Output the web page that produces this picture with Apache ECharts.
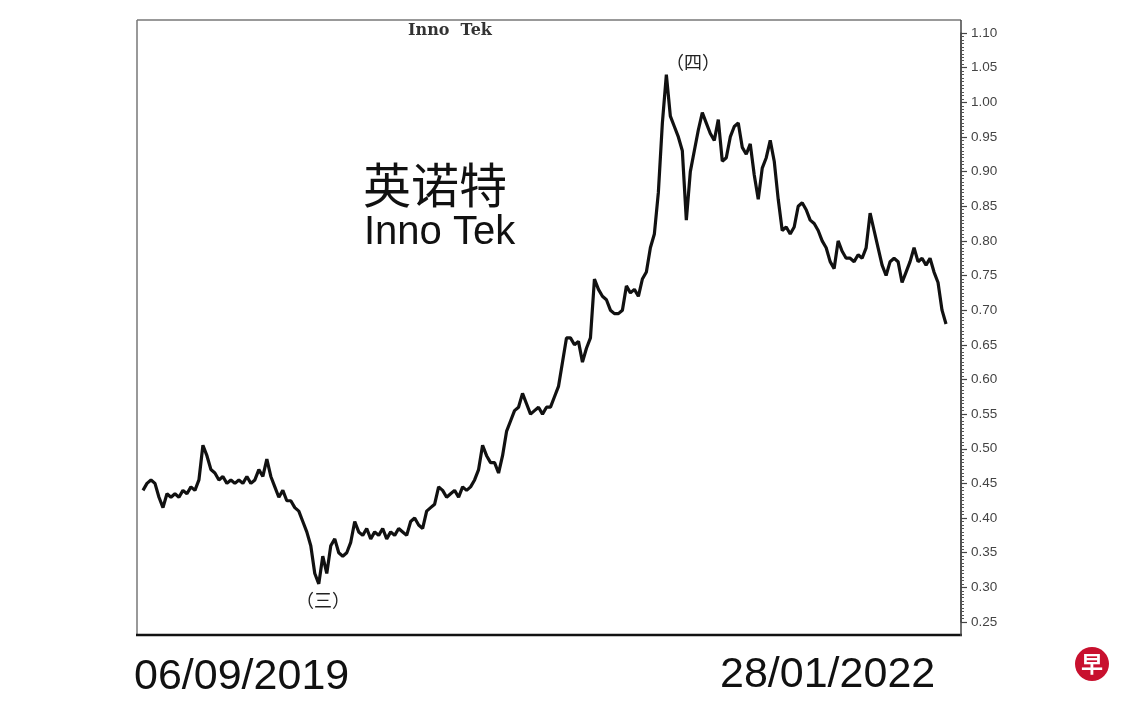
<!DOCTYPE html>
<html>
<head>
<meta charset="utf-8">
<script src="https://cdn.jsdelivr.net/npm/echarts@6/dist/echarts.min.js"></script>
<style>html,body{margin:0;padding:0;background:#fff;}#c{width:1140px;height:712px;}</style>
</head>
<body>
<div id="c"></div>
<script>
// Inno Tek price, sampled left to right (06/09/2019 -> 28/01/2022)
var prices = [
0.44,0.45,0.455,0.45,0.43,0.415,0.435,0.43,0.435,0.43,
0.44,0.435,0.445,0.44,0.455,0.505,0.49,0.47,0.465,0.455,
0.46,0.45,0.455,0.45,0.455,0.45,0.46,0.45,0.455,0.47,
0.46,0.485,0.46,0.445,0.43,0.44,0.425,0.425,0.415,0.41,
0.395,0.38,0.36,0.32,0.305,0.345,0.32,0.36,0.37,0.35,
0.345,0.35,0.365,0.395,0.38,0.375,0.385,0.37,0.38,0.375,
0.385,0.37,0.38,0.375,0.385,0.38,0.375,0.395,0.40,0.39,
0.385,0.41,0.415,0.42,0.445,0.44,0.43,0.435,0.44,0.43,
0.445,0.44,0.445,0.455,0.47,0.505,0.49,0.48,0.48,0.465,
0.49,0.525,0.54,0.555,0.56,0.58,0.565,0.55,0.555,0.56,
0.55,0.56,0.56,0.575,0.59,0.625,0.66,0.66,0.65,0.655,
0.625,0.645,0.66,0.745,0.73,0.72,0.715,0.70,0.695,0.695,
0.70,0.735,0.725,0.73,0.72,0.745,0.755,0.79,0.81,0.87,
0.97,1.04,0.98,0.965,0.95,0.93,0.83,0.90,0.93,0.96,
0.985,0.97,0.955,0.945,0.975,0.915,0.92,0.95,0.965,0.97,
0.935,0.925,0.94,0.895,0.86,0.905,0.92,0.945,0.915,0.86,
0.815,0.82,0.81,0.82,0.85,0.855,0.845,0.83,0.825,0.815,
0.80,0.79,0.77,0.76,0.80,0.785,0.775,0.775,0.77,0.78,
0.775,0.79,0.84,0.815,0.79,0.765,0.75,0.77,0.775,0.77,
0.74,0.755,0.77,0.79,0.77,0.775,0.765,0.775,0.755,0.74,
0.70,0.68
];
var yMin = 0.25, yMax = 1.10, yStep = 0.05;
var chartTitle = 'Inno  Tek';
var nameCn = '英诺特';
var nameEn = 'Inno Tek';
var startDate = '06/09/2019';
var endDate = '28/01/2022';
var markLow = '（三）';
var markHigh = '（四）';

var chart = echarts.init(document.getElementById('c'));
var seriesData = prices.map(function (v, i) { return [i, v]; });

chart.setOption({
  backgroundColor: '#fff',
  animation: false,
  grid: { left: 137, right: 179, top: 33, bottom: 90 },
  xAxis: {
    type: 'value', min: -1.5, max: prices.length + 2.75,
    show: false
  },
  yAxis: {
    type: 'value', position: 'right',
    min: yMin, max: yMax, interval: yStep,
    axisLine: { show: true, onZero: false, lineStyle: { color: '#444', width: 1.5 } },
    axisTick: { show: true, inside: false, length: 6, lineStyle: { color: '#444', width: 1.2 } },
    minorTick: { show: true, splitNumber: 10, length: 3, lineStyle: { color: '#555', width: 1 } },
    splitLine: { show: false },
    axisLabel: {
      margin: 10, color: '#444', fontSize: 13.5, fontFamily: 'Liberation Sans, Arial, sans-serif',
      formatter: function (v) { return v.toFixed(2); }
    }
  },
  series: [{
    type: 'line', data: seriesData, showSymbol: false,
    lineStyle: { color: '#111', width: 3.2 },
    clip: false
  }],
  graphic: [
    { type: 'line', shape: { x1: 137, y1: 20, x2: 961, y2: 20 }, style: { stroke: '#777', lineWidth: 1.5 } },
    { type: 'line', shape: { x1: 137, y1: 20, x2: 137, y2: 636 }, style: { stroke: '#777', lineWidth: 1.5 } },
    { type: 'line', shape: { x1: 136, y1: 635, x2: 962, y2: 635 }, style: { stroke: '#111', lineWidth: 2.5 } },
    { type: 'line', shape: { x1: 961, y1: 20, x2: 961, y2: 636 }, style: { stroke: '#444', lineWidth: 1.5 } },
    { type: 'text', x: 450, y: 31, style: { text: chartTitle, align: 'center', verticalAlign: 'middle', font: 'bold 16px "DejaVu Serif", "Liberation Serif", serif', fill: '#333' } },
    { type: 'text', x: 363, y: 185, style: { text: nameCn, align: 'left', verticalAlign: 'middle', font: '48px "Noto Sans CJK SC", sans-serif', fill: '#111' } },
    { type: 'text', x: 364, y: 233, style: { text: nameEn, align: 'left', verticalAlign: 'middle', font: '40px "Liberation Sans", Arial, sans-serif', fill: '#111' } },
    { type: 'text', x: 693, y: 62, style: { text: markHigh, align: 'center', verticalAlign: 'middle', font: '18px "Noto Sans CJK SC", sans-serif', fill: '#222' } },
    { type: 'text', x: 323, y: 600, style: { text: markLow, align: 'center', verticalAlign: 'middle', font: '18px "Noto Sans CJK SC", sans-serif', fill: '#222' } },
    { type: 'text', x: 134, y: 677, style: { text: startDate, align: 'left', verticalAlign: 'middle', font: '43px "Liberation Sans", Arial, sans-serif', fill: '#111' } },
    { type: 'text', x: 720, y: 675, style: { text: endDate, align: 'left', verticalAlign: 'middle', font: '43px "Liberation Sans", Arial, sans-serif', fill: '#111' } },
    { type: 'circle', shape: { cx: 1092, cy: 664, r: 17 }, style: { fill: '#c8102e' } },
    { type: 'text', x: 1092, y: 664, style: { text: '早', align: 'center', verticalAlign: 'middle', font: 'bold 22px "Noto Sans CJK SC", sans-serif', fill: '#fff' } }
  ]
});
</script>
</body>
</html>
